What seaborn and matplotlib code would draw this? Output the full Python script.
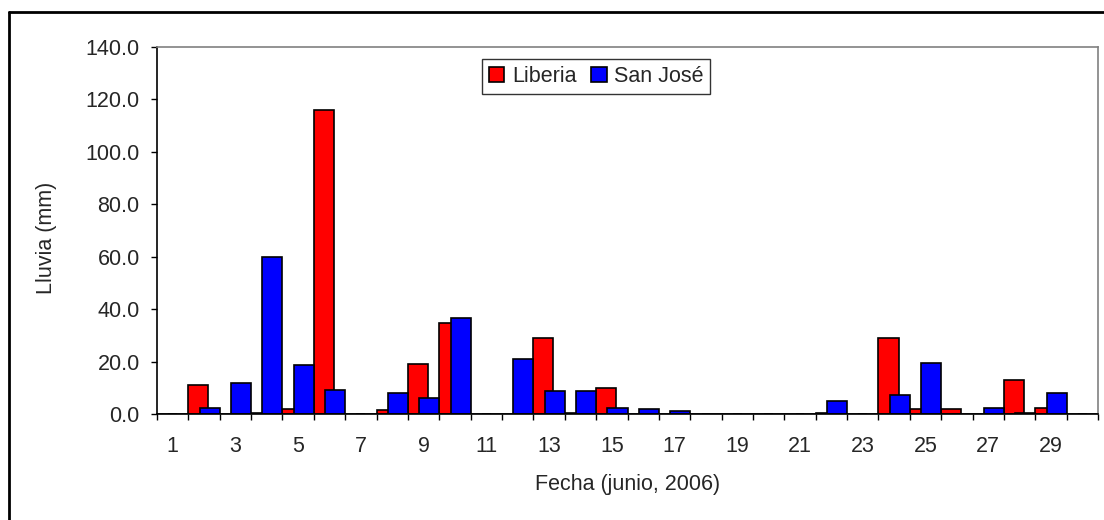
import numpy as np
import pandas as pd
import matplotlib
matplotlib.use("Agg")
import matplotlib.pyplot as plt
from matplotlib.lines import Line2D
import seaborn as sns

# Daily rainfall, June 2006 (mm)
dias = list(range(1, 31))
liberia = [0, 11.0, 0, 0.5, 1.9, 116.0, 0, 1.4, 19.2, 34.6,
           0, 0, 29.0, 0.5, 9.8, 0, 0, 0, 0, 0,
           0, 0.5, 0, 29.0, 1.9, 1.9, 0, 13.0, 2.4, 0]
san_jose = [0, 2.4, 11.7, 59.9, 18.6, 9.3, 0, 8.1, 6.2, 36.5,
            0, 21.0, 8.6, 8.6, 2.4, 1.9, 1.3, 0, 0, 0,
            0, 5.0, 0, 7.4, 19.3, 0, 2.4, 0.5, 8.0, 0]
etiquetas_x = [str(d) for d in range(1, 30, 2)]
yticks = [0, 20, 40, 60, 80, 100, 120, 140]

sns.set_theme(style="white")
plt.rcParams["font.family"] = ["Liberation Sans", "DejaVu Sans"]
FS = 15.5

W, H = 1104, 520
fig = plt.figure(figsize=(W / 100, H / 100), dpi=100)
ax = fig.add_axes([157 / W, 1 - 414 / H, (1098 - 157) / W, (414 - 47) / H])

df = pd.DataFrame({"dia": dias, "Liberia": liberia, "San José": san_jose})

# Excel-style overlapping bars: red on the left, blue on the right, blue drawn on top
shift = 0.18
for col, color, off in [("Liberia", "#ff0000", -shift), ("San José", "#0000ff", shift)]:
    sns.barplot(x=df["dia"] + off, y=df[col], native_scale=True, width=0.64,
                color=color, saturation=1, edgecolor="black", linewidth=1.2,
                errorbar=None, label=col, ax=ax)

ax.set_xlim(0.5, 30.5)
ax.set_ylim(0, 140)
ax.set_xticks(range(1, 30, 2))
ax.set_xticklabels(etiquetas_x)
ax.set_xticks(np.arange(0.5, 31, 1), minor=True)
ax.tick_params(axis="x", which="major", length=0, pad=16, labelsize=FS)
ax.tick_params(axis="x", which="minor", length=4.5, width=1, color="black", direction="out", bottom=True)
ax.set_yticks(yticks)
ax.yaxis.set_major_formatter(matplotlib.ticker.StrMethodFormatter("{x:.1f}"))
ax.tick_params(axis="y", length=4.5, width=1, color="black", direction="out", left=True, pad=8, labelsize=FS)

for s in ["left", "bottom"]:
    ax.spines[s].set_color("black")
    ax.spines[s].set_linewidth(1.2)
for s in ["top", "right"]:
    ax.spines[s].set_color("#808080")
    ax.spines[s].set_linewidth(1.2)

ax.set_xlabel("Fecha (junio, 2006)", fontsize=FS, labelpad=12)
ax.set_ylabel("Lluvia (mm)", fontsize=FS)
ax.yaxis.set_label_coords(-0.106, 0.48)

leg = ax.legend(loc="upper center", bbox_to_anchor=(0.467, 0.966), ncol=2, fontsize=FS,
                frameon=True, fancybox=False, edgecolor="black", handlelength=0.7,
                handleheight=0.7, handletextpad=0.35, columnspacing=0.7,
                borderpad=0.32, borderaxespad=0)
leg.get_frame().set_linewidth(1.0)

# outer chart border (left and top visible)
fig.add_artist(Line2D([9 / W, 9 / W], [0, 1 - 12 / H], color="black", lw=2, transform=fig.transFigure))
fig.add_artist(Line2D([9 / W, 1], [1 - 12 / H, 1 - 12 / H], color="black", lw=2, transform=fig.transFigure))

fig.savefig("out.png", dpi=100, facecolor="white")
